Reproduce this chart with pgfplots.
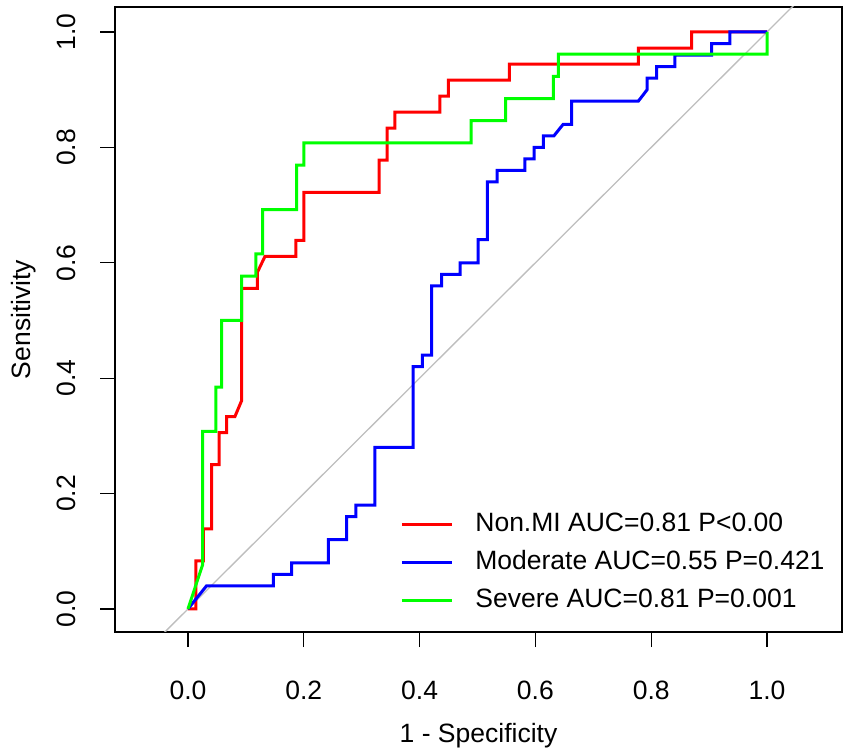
\documentclass[border=0pt]{standalone}
\usepackage{pgfplots}
\pgfplotsset{compat=1.18}
\usepackage{fontspec}
\setmainfont{Liberation Sans}
\definecolor{rred}{RGB}{255,0,0}
\definecolor{rblue}{RGB}{0,0,255}
\definecolor{rgreen}{RGB}{0,255,0}
\definecolor{rgray}{RGB}{190,190,190}
\begin{document}
\fontsize{26.5}{31}\selectfont
\begin{tikzpicture}[x=1pt,y=1pt]
\useasboundingbox (0,0) rectangle (851,752);
\begin{axis}[
  at={(115pt,120pt)}, anchor=south west,
  scale only axis, width=727pt, height=625pt,
  xmin=-0.126, xmax=1.1295, ymin=-0.0399, ymax=1.0433,
  axis line style={line width=1.3pt},
  tick style={black, line width=1.3pt},
  major tick length=15pt, tick align=outside, tick pos=left,
  xtick={0,0.2,0.4,0.6,0.8,1},
  xticklabels={0.0,0.2,0.4,0.6,0.8,1.0},
  ytick={0,0.2,0.4,0.6,0.8,1},
  yticklabels={0.0,0.2,0.4,0.6,0.8,1.0},
  xticklabel style={anchor=center, yshift=-43pt},
  yticklabel style={rotate=90, anchor=center, yshift=34pt},
  every axis x label/.style={at={(rel axis cs:0.5,0)}, anchor=center, yshift=-104pt},
  every axis y label/.style={at={(rel axis cs:0,0.5)}, anchor=center, rotate=90, yshift=91pt},
  xlabel={1 - Specificity},
  ylabel={Sensitivity},
  legend cell align=left,
  legend style={at={(axis cs:0.3665,0.167)}, anchor=north west, draw=none, fill=none,
    inner sep=0pt, row sep=14pt,
    nodes={inner sep=0pt, text height=19pt, text depth=5pt},
    /tikz/every odd column/.style={column sep=22pt}},
  legend image code/.code={\draw[#1] (0pt,0pt) -- (50pt,0pt);},
  clip=true,
]
\addplot[rgray, line width=1.3pt, forget plot] coordinates {(-0.3,-0.3) (1.3,1.3)};
\addplot[rred, line width=3pt] coordinates {
(0,0) (0.0138,0) (0.0138,0.0833) (0.0265,0.0833) (0.0265,0.1389) (0.041,0.1389)
(0.041,0.25) (0.054,0.25) (0.054,0.3056) (0.0668,0.3056) (0.0668,0.3333) (0.081,0.3333)
(0.0927,0.3611) (0.0927,0.5556) (0.1198,0.5556) (0.1198,0.5833) (0.133,0.6111)
(0.1865,0.6111) (0.1865,0.6389) (0.2003,0.6389) (0.2003,0.7222) (0.330,0.7222)
(0.330,0.7778) (0.344,0.7778) (0.344,0.8333) (0.3575,0.8333) (0.3575,0.8611)
(0.435,0.8611) (0.435,0.8889) (0.4496,0.8889) (0.4496,0.9167) (0.555,0.9167)
(0.555,0.9444) (0.778,0.9444) (0.778,0.9722) (0.870,0.9722) (0.870,1) (1,1)};
\addlegendentry{Non.MI AUC=0.81 P<0.00}
\addplot[rblue, line width=3pt] coordinates {
(0,0) (0.032,0.04) (0.1474,0.04) (0.1474,0.06) (0.179,0.06) (0.179,0.08)
(0.2424,0.08) (0.2424,0.12) (0.274,0.12) (0.274,0.16) (0.29,0.16) (0.29,0.18)
(0.323,0.18) (0.323,0.28) (0.389,0.28) (0.389,0.42) (0.405,0.42) (0.405,0.44)
(0.421,0.44) (0.421,0.56) (0.438,0.56) (0.438,0.58) (0.47,0.58) (0.47,0.60)
(0.501,0.60) (0.501,0.64) (0.517,0.64) (0.517,0.74) (0.534,0.74) (0.534,0.76)
(0.582,0.76) (0.582,0.78) (0.5976,0.78) (0.5976,0.80) (0.6137,0.80) (0.6137,0.82)
(0.632,0.82) (0.648,0.84) (0.6627,0.84) (0.6627,0.88) (0.7777,0.88) (0.793,0.90)
(0.793,0.92) (0.8095,0.92) (0.8095,0.94) (0.841,0.94) (0.841,0.96) (0.9045,0.96)
(0.9045,0.98) (0.936,0.98) (0.936,1) (1,1)};
\addlegendentry{Moderate AUC=0.55 P=0.421}
\addplot[rgreen, line width=3pt] coordinates {
(0,0) (0.0254,0.0769) (0.0254,0.3077) (0.0484,0.3077) (0.0484,0.3846) (0.058,0.3846)
(0.058,0.5) (0.0927,0.5) (0.0927,0.5769) (0.1174,0.5769) (0.1174,0.6154) (0.129,0.6154)
(0.129,0.6923) (0.1877,0.6923) (0.1877,0.7692) (0.2003,0.7692) (0.2003,0.8077)
(0.4888,0.8077) (0.4888,0.8462) (0.5487,0.8462) (0.5487,0.8846) (0.631,0.8846)
(0.631,0.9231) (0.6396,0.9231) (0.6396,0.9615) (1,0.9615) (1,1)};
\addlegendentry{Severe AUC=0.81 P=0.001}
\end{axis}
\end{tikzpicture}
\end{document}
